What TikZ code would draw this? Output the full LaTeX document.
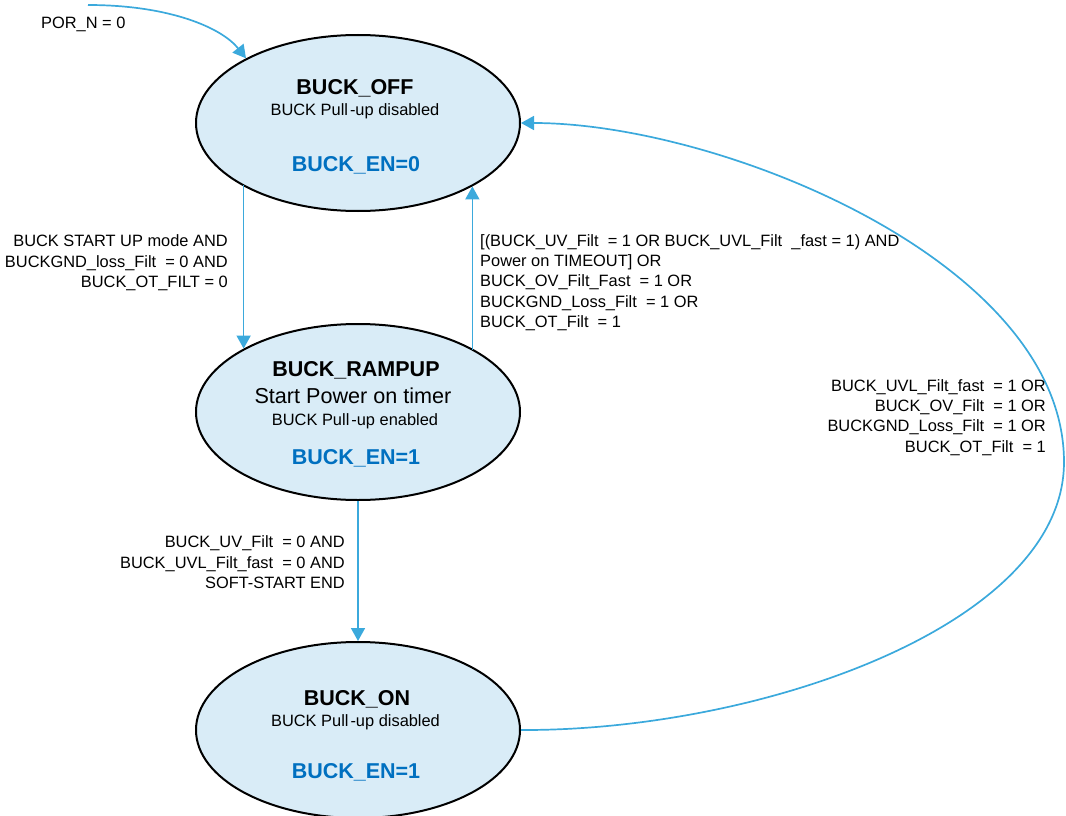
\documentclass[tikz,border=0pt]{standalone}
\usepackage{fontspec}
\setmainfont{Liberation Sans}
\usetikzlibrary{shapes.geometric,arrows.meta}
\definecolor{wire}{RGB}{59,169,220}
\definecolor{stfill}{RGB}{217,236,247}
\definecolor{enblue}{RGB}{0,112,192}
\begin{document}
\begin{tikzpicture}[x=1pt,y=-1pt,
  state/.style={ellipse, draw=black, line width=2pt, fill=stfill,
    minimum width=324pt, minimum height=176pt, inner sep=0pt},
  title/.style={font=\fontsize{21.5}{24}\selectfont\bfseries, inner sep=0pt, anchor=base},
  big/.style={font=\fontsize{21.6}{24}\selectfont, inner sep=0pt, anchor=base},
  sub/.style={font=\fontsize{16.4}{19}\selectfont, inner sep=0pt, anchor=base},
  en/.style={title, text=enblue},
  lbl/.style={font=\fontsize{16.4}{20.3}\selectfont, inner sep=0pt},
  flow/.style={draw=wire, line width=1.7pt, -{Triangle[length=13pt,width=14pt]}}]
\useasboundingbox (0,0) rectangle (1066,816);

% states
\node[state] (off)  at (358,123) {};
\node[state] (ramp) at (358,412) {};
\node[state] (on)   at (358,730) {};

% state texts
\node[title] (offT) at (355,94.5)  {BUCK\_OFF};
\node[sub]   (offS) at (355,115.7) {BUCK Pull\hspace{2pt}-up disabled};
\node[en]    (offE) at (356,171.5) {BUCK\_EN=0};

\node[title] (rampT) at (356,376.5) {BUCK\_RAMPUP};
\node[big]   (rampB) at (353,403.5) {Start Power on timer};
\node[sub]   (rampS) at (355,425)   {BUCK Pull\hspace{2pt}-up enabled};
\node[en]    (rampE) at (356,464.5) {BUCK\_EN=1};

\node[title] (onT) at (357,705.5) {BUCK\_ON};
\node[sub]   (onS) at (355.5,726) {BUCK Pull\hspace{2pt}-up disabled};
\node[en]    (onE) at (356,778.5) {BUCK\_EN=1};

% reset entry
\coordinate (por) at (88,5);
\draw[flow] (por) .. controls (170,5) and (222,28) .. (off.150.7);
\node[lbl, anchor=base west] (porL) at (41,28.5) {POR\_N = 0};

% OFF -> RAMPUP
\draw[flow] (ramp.151.1 |- off.208.7) -- (ramp.151.1);
\node[lbl, align=right, anchor=north east] (upL) at (228,234.8)
  {BUCK START UP mode AND\\
   BUCKGND\_loss\_Filt\ \ = 0 AND\\
   BUCK\_OT\_FILT = 0};

% RAMPUP -> OFF
\draw[flow] (off.331.3 |- ramp.28) -- (off.331.3);
\node[lbl, align=left, anchor=north west] (backL) at (480,234.3)
  {[(BUCK\_UV\_Filt\ \ = 1 OR BUCK\_UVL\_Filt\ \ \_fast = 1) AND\\
   Power on TIMEOUT] OR\\
   BUCK\_OV\_Filt\_Fast\ \ = 1 OR\\
   BUCKGND\_Loss\_Filt\ \ = 1 OR\\
   BUCK\_OT\_Filt\ \ = 1};

% RAMPUP -> ON
\draw[flow] (ramp.south) -- (ramp.south |- on.north);
\node[lbl, align=right, anchor=north east] (rdyL) at (345,535.8)
  {BUCK\_UV\_Filt\ \ = 0 AND\\
   BUCK\_UVL\_Filt\_fast\ \ = 0 AND\\
   SOFT-START END};

% ON -> OFF
\coordinate (farright) at (1064,462);
\draw[flow] (on.east) .. controls (760,731) and (1064,625) .. (farright)
  .. controls (1064,262) and (720,123) .. (off.east);
\node[lbl, align=right, anchor=north east] (faultL) at (1046,379.3)
  {BUCK\_UVL\_Filt\_fast\ \ = 1 OR\\
   BUCK\_OV\_Filt\ \ = 1 OR\\
   BUCKGND\_Loss\_Filt\ \ = 1 OR\\
   BUCK\_OT\_Filt\ \ = 1};
\end{tikzpicture}
\end{document}
